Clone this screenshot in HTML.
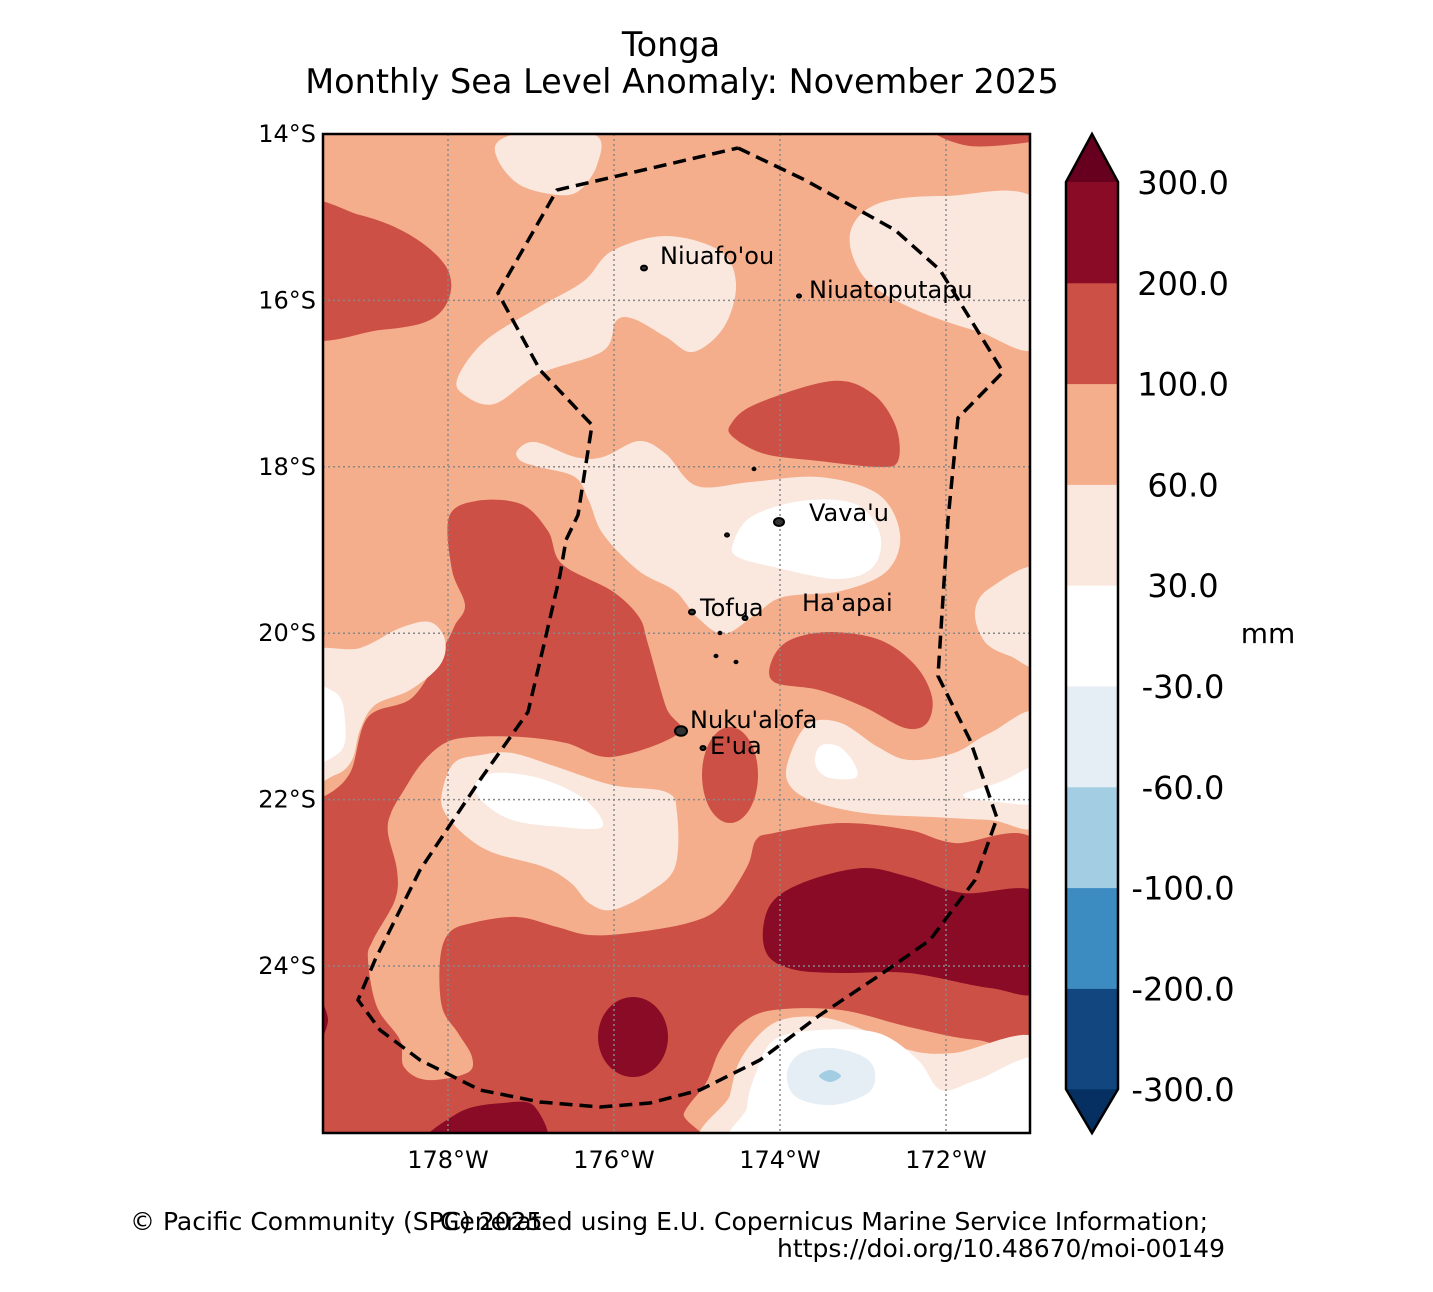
<!DOCTYPE html>
<html><head><meta charset="utf-8"><style>
body{margin:0;background:#fff;}
svg{display:block;font-family:"DejaVu Sans","Liberation Sans",sans-serif;}
</style></head><body>
<svg id="s" width="1433" height="1292" viewBox="0 0 1433 1292">
<text x="671" y="56" font-size="33.5" text-anchor="middle">Tonga</text>
<text x="682" y="93" font-size="33.5" text-anchor="middle">Monthly Sea Level Anomaly: November 2025</text>
<defs><clipPath id="mc"><rect x="323" y="134" width="707" height="999"/></clipPath></defs>
<g id="map" clip-path="url(#mc)"></g>
<g id="grid"></g>
<path id="eez" fill="none" stroke="#000" stroke-width="3.5" stroke-dasharray="13,7"/>
<g id="isl"></g>
<rect x="323" y="134" width="707" height="999" fill="none" stroke="#000" stroke-width="2.5"/>
<g id="ax" font-size="24"></g>
<g id="cb"></g>
<text x="1268" y="643" font-size="28" text-anchor="middle">mm</text>
<text x="130" y="1230" font-size="25">© Pacific Community (SPC) 2025</text>
<text x="1208" y="1230" font-size="25" text-anchor="end">Generated using E.U. Copernicus Marine Service Information;</text>
<text x="1225" y="1257" font-size="25" text-anchor="end">https://doi.org/10.48670/moi-00149</text>
</svg>
<script>
const levels=[-300,-200,-100,-60,-30,30,60,100,200,300];
const levelColors=['#11467f','#3c8bc1','#a2cde2','#e5eef4','#ffffff','#fae8df','#f5ae8c','#cc5046','#8a0b26'];
const extendColors=['#053061','#67001f'];
const lonTicks=[-178,-176,-174,-172];
const latTicks=[-14,-16,-18,-20,-22,-24];
const NS='http://www.w3.org/2000/svg';
function X(lon){return 448+(lon+178)*83;}
function Y(lat){return 134+(-14-lat)*83.2;}
function mk(parent,tag,attrs){const e=document.createElementNS(NS,tag);for(const k in attrs)e.setAttribute(k,attrs[k]);parent.appendChild(e);return e;}
function smooth(p){let d='M'+p[0][0]+','+p[0][1];const n=p.length;
 for(let i=0;i<n;i++){const p0=p[(i-1+n)%n],p1=p[i],p2=p[(i+1)%n],p3=p[(i+2)%n];
 d+='C'+(p1[0]+(p2[0]-p0[0])/6)+','+(p1[1]+(p2[1]-p0[1])/6)+' '+(p2[0]-(p3[0]-p1[0])/6)+','+(p2[1]-(p3[1]-p1[1])/6)+' '+p2[0]+','+p2[1];}
 return d+'Z';}
const map=document.getElementById('map');
const C={red:'#cc5046',dark:'#8a0b26',sal:'#f5ae8c',lt:'#fae8df',wh:'#ffffff',b1:'#e5eef4',b2:'#a2cde2'};
let bg=mk(map,'rect',{x:323,y:134,width:707,height:999,fill:C.sal});


const shapes=[
['red-left-top',C.red,[[300,208],[360,215],[410,235],[445,265],[450,295],[430,320],[380,330],[300,332]]],
['light-top',C.lt,[[500,140],[545,128],[597,136],[597,165],[580,190],[558,195],[520,185],[498,160]]],
['red-top-right',C.red,[[935,128],[1040,128],[1040,140],[970,146]]],
['light-niuafoou',C.lt,[[458,377],[485,341],[539,307],[584,281],[612,251],[666,236],[720,251],[736,284],[724,327],[693,352],[666,337],[634,319],[616,321],[603,351],[539,374],[494,404],[463,394]]],
['light-top-right',C.lt,[[850,234],[877,204],[945,196],[1040,204],[1040,343],[977,331],[909,307],[864,277]]],
['red-north-blob',C.red,[[731,424],[756,404],[832,381],[873,394],[896,427],[898,461],[878,467],[819,461],[765,454],[733,437]]],
['light-central',C.lt,[[517,451],[535,442],[575,457],[603,457],[639,441],[666,454],[697,486],[751,482],[819,477],[878,494],[900,534],[887,571],[841,591],[783,597],[756,614],[724,634],[697,617],[675,591],[639,571],[603,534],[589,501],[575,477],[539,467],[521,461]]],
['white-vavau',C.wh,[[733,544],[751,517],[801,501],[855,504],[880,534],[873,567],[837,579],[774,567],[738,557]]],
['light-right-edge',C.lt,[[1040,570],[990,588],[975,612],[985,642],[1010,656],[1040,662]]],
['red-big-south',C.red,[[449,517],[476,501],[521,504],[548,531],[562,564],[612,591],[639,617],[648,644],[666,707],[679,733],[612,757],[566,743],[521,737],[472,737],[445,743],[422,763],[404,790],[391,813],[388,833],[397,870],[395,900],[373,940],[368,960],[377,1007],[400,1040],[404,1067],[427,1080],[467,1073],[472,1057],[458,1033],[442,1007],[440,960],[449,933],[472,923],[517,917],[557,927],[589,935],[630,933],[688,923],[720,907],[747,867],[756,840],[774,833],[841,823],[909,830],[954,843],[1040,848],[1040,1037],[977,1040],[909,1027],[841,1010],[774,1010],[742,1023],[720,1050],[706,1083],[684,1113],[675,1150],[300,1150],[300,800],[323,797],[350,773],[368,717],[413,697],[445,645],[455,625],[465,605],[452,570]]],
['light-left-edge',C.lt,[[300,660],[360,648],[400,628],[430,622],[445,640],[440,665],[410,690],[375,705],[360,730],[352,760],[335,775],[300,778]]],
['white-left-edge',C.wh,[[300,688],[336,693],[345,720],[340,752],[300,762]]],
['light-22s',C.lt,[[442,793],[454,763],[481,755],[512,753],[557,767],[612,785],[666,792],[677,813],[675,867],[648,893],[612,910],[589,903],[571,883],[544,867],[494,853],[467,837],[445,813]]],
['white-22s',C.wh,[[476,783],[494,773],[535,777],[575,793],[598,813],[600,828],[562,827],[512,820],[481,800]]],
['red-hapai',C.red,[[774,682],[772,660],[790,640],[830,632],[880,640],[915,665],[932,697],[927,723],[905,728],[864,707],[819,690]]],
['light-east',C.lt,[[792,750],[787,780],[810,800],[864,813],[932,817],[990,820],[1040,822],[1040,715],[990,733],[954,753],[909,760],[878,747],[841,723],[810,723]]],
['white-east-small',C.wh,[[815,757],[822,745],[840,747],[855,765],[855,778],[830,778],[818,770]]],
['white-east-edge',C.wh,[[963,795],[1000,782],[1040,766],[1040,802],[990,801]]],
['dark-southeast',C.dark,[[763,930],[774,900],[810,880],[864,868],[909,877],[963,893],[1040,895],[1040,988],[990,988],[909,973],[841,973],[796,970],[769,957]]],
['dark-left-bottom',C.dark,[[422,1150],[458,1113],[503,1103],[535,1107],[540,1150]]],
['dark-left-edge',C.dark,[[316,995],[328,1020],[316,1045]]],
['light-southeast',C.lt,[[720,1150],[730,1095],[742,1057],[774,1023],[819,1017],[864,1030],[909,1050],[954,1053],[1040,1040],[1040,1150]]],
['white-southeast',C.wh,[[747,1107],[756,1073],[774,1040],[819,1030],[878,1033],[918,1060],[941,1090],[977,1080],[1040,1060],[1040,1150],[751,1150]]],
['blue-light',C.b1,[[787,1073],[801,1053],[832,1048],[864,1057],[875,1073],[868,1093],[832,1105],[796,1097]]],
['blue-mid',C.b2,[[819,1076],[830,1070],[841,1076],[830,1082]]]
];
for(const s of shapes){
 const p=mk(map,'path',{d:smooth(s[2]),fill:s[1]});
 
 
}
const red2=mk(map,'ellipse',{cx:730,cy:775,rx:28,ry:48,fill:C.red});


const dk=mk(map,'ellipse',{cx:633,cy:1037,rx:35,ry:40,fill:C.dark});


const grid=document.getElementById('grid');
for(const lo of lonTicks){const l=mk(grid,'line',{x1:X(lo),x2:X(lo),y1:134,y2:1133,stroke:'#888',"stroke-width":1.5,"stroke-dasharray":'2,3'});
 }
for(const la of latTicks){const l=mk(grid,'line',{x1:323,x2:1030,y1:Y(la),y2:Y(la),stroke:'#888',"stroke-width":1.5,"stroke-dasharray":'2,3'});
 }
const eez=[[738,148],[805,180],[895,230],[940,270],[1003,372],[958,418],[948,520],[938,676],[970,740],[997,818],[975,880],[930,940],[880,975],[820,1015],[760,1060],[700,1090],[650,1103],[600,1107],[540,1102],[480,1090],[420,1060],[380,1030],[358,1000],[375,960],[420,870],[480,780],[528,712],[545,640],[560,575],[566,540],[578,515],[592,425],[540,370],[498,293],[557,190],[738,148]];
document.getElementById('eez').setAttribute('d','M'+eez.map(p=>p.join(',')).join('L'));
const isl=document.getElementById('isl');
const islands=[['niuafoou',644,268,3],['niuatoputapu',799,296,2],['vavau',779,522,5],['tofua',692,612,3],['nukualofa',681,731,6],['eua',703,748,2.5],['hapai-1',745,618,2.5],['hapai-2',720,633,1.5],['hapai-3',716,656,1.5],['hapai-4',736,662,1.5],['islet',727,535,2],['islet2',754,469,1.5]];
for(const i of islands){const c=mk(isl,'ellipse',{cx:i[1],cy:i[2],rx:i[3],ry:i[3]*0.8,fill:'#333',stroke:'#000',"stroke-width":2});
 }
const labels=[['Niuafo\'ou',660,264],['Niuatoputapu',809,298],['Vava\'u',809,521],['Tofua',700,616],['Ha\'apai',802,611],['Nuku\'alofa',690,728],['E\'ua',710,754]];
for(const l of labels){const t=mk(isl,'text',{x:l[1],y:l[2],"font-size":24});t.textContent=l[0];
 }
const ax=document.getElementById('ax');
for(const la of latTicks){const t=mk(ax,'text',{x:316,y:Y(la)+8,"text-anchor":'end'});t.textContent=(-la)+'°S';
 }
for(const lo of lonTicks){const t=mk(ax,'text',{x:X(lo),y:1168,"text-anchor":'middle'});t.textContent=(-lo)+'°W';
 }
const cb=document.getElementById('cb');
const cbTop=182,step=100.8,cx0=1066,cw=52;
function CY(i){return cbTop+(levels.length-1-i)*step;}
for(let i=0;i<levelColors.length;i++){const r=mk(cb,'rect',{x:cx0,y:CY(i+1),width:cw,height:step+0.5,fill:levelColors[i]});
 }
const tt=mk(cb,'polygon',{points:`${cx0},${cbTop} ${cx0+cw/2},134 ${cx0+cw},${cbTop}`,fill:extendColors[1]});

const yb=CY(0);
const tb=mk(cb,'polygon',{points:`${cx0},${yb} ${cx0+cw/2},1133 ${cx0+cw},${yb}`,fill:extendColors[0]});

const ol=mk(cb,'polygon',{points:`${cx0},${cbTop} ${cx0+cw/2},134 ${cx0+cw},${cbTop} ${cx0+cw},${yb} ${cx0+cw/2},1133 ${cx0},${yb}`,fill:'none',stroke:'#000',"stroke-width":2.5});

for(let i=0;i<levels.length;i++){const t=mk(cb,'text',{x:1183,y:CY(i)+12,"font-size":32,"text-anchor":'middle'});t.textContent=levels[i].toFixed(1);
 }
</script>
</body></html>
